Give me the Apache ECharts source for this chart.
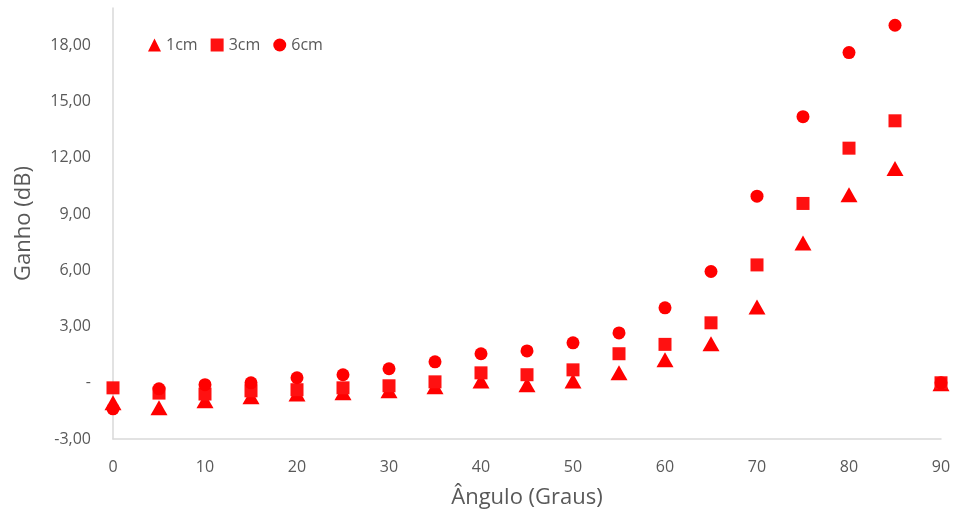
<!DOCTYPE html>
<html>
<head>
<meta charset="utf-8">
<script src="https://cdn.jsdelivr.net/npm/echarts@6/dist/echarts.min.js"></script>
<style>
  html, body { margin: 0; padding: 0; background: #ffffff; }
  #chart { width: 955px; height: 515px; }
</style>
</head>
<body>
<div id="chart"></div>
<script>
// Ângulo de incidência (graus)
const angles = [0, 5, 10, 15, 20, 25, 30, 35, 40, 45, 50, 55, 60, 65, 70, 75, 80, 85, 90];

// Ganho medido (dB) para cada distância
const gain1cm = [-1.07, -1.33, -0.96, -0.75, -0.60, -0.53, -0.43, -0.21, 0.10, -0.10, 0.10, 0.53, 1.23, 2.08, 4.05, 7.46, 10.03, 11.43, -0.05];
const gain3cm = [-0.27, -0.55, -0.60, -0.43, -0.37, -0.27, -0.16, 0.05, 0.53, 0.43, 0.69, 1.55, 2.05, 3.20, 6.29, 9.57, 12.52, 13.98, 0.00];
const gain6cm = [-1.39, -0.32, -0.10, 0.00, 0.27, 0.43, 0.75, 1.12, 1.55, 1.70, 2.13, 2.66, 4.00, 5.94, 9.96, 14.20, 17.62, 19.08, 0.00];

const seriesNames = ['1cm', '3cm', '6cm'];

const pairs = (ys) => angles.map((a, i) => [a, ys[i]]);

const textColor = '#595959';
const lineColor = '#d9d9d9';
const fontFamily = '"Open Sans", "DejaVu Sans", sans-serif';

// Eixo Y em formato contábil: zero aparece como "-"
function fmtGain(v) {
  if (Math.abs(v) < 1e-9) return '-';
  if (v > 19) return '';
  return v.toFixed(2).replace('.', ',');
}

const chart = echarts.init(document.getElementById('chart'));
chart.setOption({
  animation: false,
  backgroundColor: '#ffffff',
  textStyle: { fontFamily: fontFamily },
  grid: { left: 113, right: 14, top: 8, bottom: 76, containLabel: false },
  legend: {
    left: 143,
    top: 32,
    itemWidth: 13,
    itemHeight: 13,
    itemGap: 13,
    textStyle: { color: textColor, fontSize: 16, fontFamily: fontFamily },
    data: seriesNames
  },
  xAxis: {
    type: 'value',
    min: 0,
    max: 90,
    interval: 10,
    name: 'Ângulo (Graus)',
    nameLocation: 'middle',
    nameGap: 48,
    nameTextStyle: { color: textColor, fontSize: 22, fontFamily: fontFamily },
    axisLine: { onZero: false, lineStyle: { color: lineColor, width: 1.5 } },
    axisTick: { show: false },
    splitLine: { show: false },
    axisLabel: { color: textColor, fontSize: 16, margin: 20, fontFamily: fontFamily }
  },
  yAxis: {
    type: 'value',
    min: -3,
    max: 20,
    interval: 3,
    name: 'Ganho (dB)',
    nameLocation: 'middle',
    nameGap: 78,
    nameTextStyle: { color: textColor, fontSize: 22, fontFamily: fontFamily },
    axisLine: { show: true, lineStyle: { color: lineColor, width: 1.5 } },
    axisTick: { show: false },
    splitLine: { show: false },
    axisLabel: { color: textColor, fontSize: 16, margin: 22, fontFamily: fontFamily, formatter: fmtGain }
  },
  series: [
    {
      name: seriesNames[0],
      type: 'scatter',
      symbol: 'triangle',
      symbolSize: [17, 15],
      itemStyle: { color: '#ff0000', opacity: 1 },
      data: pairs(gain1cm)
    },
    {
      name: seriesNames[1],
      type: 'scatter',
      symbol: 'rect',
      symbolSize: 13,
      itemStyle: { color: '#ff1111', opacity: 1 },
      data: pairs(gain3cm)
    },
    {
      name: seriesNames[2],
      type: 'scatter',
      symbol: 'circle',
      symbolSize: 13,
      itemStyle: { color: '#ff0000', opacity: 1 },
      data: pairs(gain6cm)
    }
  ]
});
</script>
</body>
</html>
